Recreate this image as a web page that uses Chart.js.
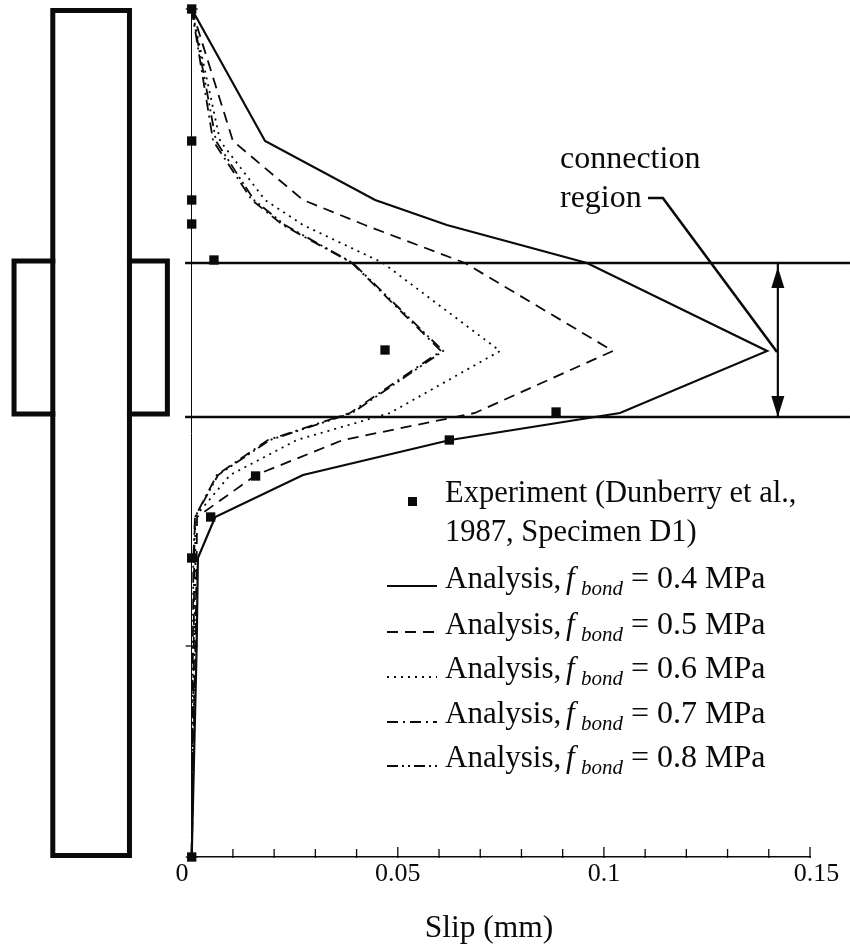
<!DOCTYPE html>
<html><head><meta charset="utf-8">
<style>html,body{margin:0;padding:0;background:#fff}#w{width:850px;height:948px}</style>
<script src="https://cdn.jsdelivr.net/npm/chart.js@4"></script></head>
<body><div id="w"><canvas id="c"></canvas></div>
<script>
// height along the column (axis is unlabelled in the source)
const heights   = [848,716,657,632,594,506,444,417,382,340,299,211,0];
const slip04    = [0,.0178,.0445,.0619,.0959,.1396,.1039,.0627,.0270,.0057,.0015,.0012,0];
const slip05    = [0,.0100,.0270,.0420,.0663,.1022,.0687,.0367,.0156,.0013,.0012,.0009,0];
const slip06    = [0,.0069,.0178,.0270,.0464,.0748,.0481,.0255,.0093,.0008,.0009,.0007,0];
const slip07    = [0,.0052,.0146,.0221,.0389,.0605,.0384,.0185,.0061,.0008,.0006,.0005,0];
const slip08    = [0,.0059,.0151,.0226,.0391,.0610,.0389,.0190,.0064,.0008,.0004,.0003,0];
const expSlip   = [0,0,0,0,.0054,.0469,.0884,.0625,.0155,.0046,0,0];
const expHeight = [848,716,657,633,597,507,445,417,381,340,299,0];
const xLabels   = [0,0.05,0.1,0.15];
const yTicks    = [0,211,848];
const legendLabels = ['0.4','0.5','0.6','0.7','0.8'];
const lineDashes = [[],[11,7],[2,5],[11,5,2,5],[11,4,2,4,2,4]];
const regionBounds = [594,440];
const columnX = [-.0337,-.0151], columnY = [1.5,846.5];
const boxX = [-.0431,-.0059], boxY = [596,443];
const leaderX = [.1107,.1143,.1420], leaderY = [659,659,505];
const arrowX = .1422;

const black = '#0a0a0a';
const serif = '"Liberation Serif","Times New Roman",serif';
const zip = (xs,ys)=>xs.map((x,i)=>({x,y:ys[i]}));
const line = (data,width,dash=[])=>({type:'line',data,showLine:true,borderColor:black,borderWidth:width,borderDash:dash,pointRadius:0,tension:0,fill:false,clip:false,borderJoinStyle:'miter'});
// a very long dash keeps the line solid while letting vertical runs draw in full
const outline = (data,width)=>({...line(data,width,[5000,1]),borderCapStyle:'square'});

const datasets = [
  {type:'scatter',label:'Experiment',data:zip(expSlip,expHeight),pointStyle:'rect',pointRadius:6.6,backgroundColor:black,borderWidth:0,showLine:false,clip:false},
  ...[slip04,slip05,slip06,slip07,slip08].map((s,i)=>({...line(zip(s,heights),i==0?2.2:1.8,lineDashes[i]),label:'Analysis '+legendLabels[i]})),
  line(zip([-.0016,.1597],[regionBounds[0],regionBounds[0]]),2.6),
  line(zip([-.0016,.1597],[regionBounds[1],regionBounds[1]]),2.6),
  outline(zip([columnX[0],columnX[1],columnX[1],columnX[0],columnX[0]],[columnY[0],columnY[0],columnY[1],columnY[1],columnY[0]]),5),
  outline(zip([columnX[0],boxX[0],boxX[0],columnX[0]],[boxY[0],boxY[0],boxY[1],boxY[1]]),5),
  outline(zip([columnX[1],boxX[1],boxX[1],columnX[1]],[boxY[0],boxY[0],boxY[1],boxY[1]]),5),
  line(zip(leaderX,leaderY),2.6),
  outline(zip([arrowX,arrowX],regionBounds),2.2)
];

const overlay = {id:'overlay',afterDatasetsDraw(chart){
  const {ctx,scales:{x,y}} = chart;
  ctx.save();
  ctx.strokeStyle = black; ctx.fillStyle = black; ctx.lineWidth = 1.3;
  x.ticks.forEach(t=>{
    const px = x.getPixelForValue(t.value), major = xLabels.some(v=>Math.abs(v-t.value)<1e-6);
    ctx.beginPath(); ctx.moveTo(px,y.bottom+1); ctx.lineTo(px,y.bottom-(major?10:8)); ctx.stroke();
  });
  y.ticks.forEach(t=>{
    const py = y.getPixelForValue(t.value);
    ctx.beginPath(); ctx.moveTo(x.left-6,py); ctx.lineTo(x.left+6,py); ctx.stroke();
  });
  const ax = x.getPixelForValue(arrowX), up = y.getPixelForValue(regionBounds[0])+4, dn = y.getPixelForValue(regionBounds[1]);
  [[up,1],[dn,-1]].forEach(([p,d])=>{
    ctx.beginPath(); ctx.moveTo(ax,p); ctx.lineTo(ax-6.5,p+d*21); ctx.lineTo(ax+6.5,p+d*21); ctx.closePath(); ctx.fill();
  });
  ctx.textBaseline='alphabetic'; ctx.textAlign='left';
  ctx.font = '32px '+serif;
  ctx.fillText('connection',560,168);
  ctx.fillText('region',560,207);
  ctx.font = '30.5px '+serif;
  ctx.fillText('Experiment (Dunberry et al.,',445,502);
  ctx.fillText('1987, Specimen D1)',445,541);
  ctx.fillRect(408,497,9,9);
  const rows=[588,634,678,723,767], keys=[586,632,677,722,766];
  legendLabels.forEach((v,i)=>{
    ctx.font='31px '+serif; ctx.fillText('Analysis,',445,rows[i]);
    ctx.font='italic 31px '+serif; ctx.fillText('f',566,rows[i]);
    ctx.font='italic 21px '+serif; ctx.fillText('bond',581,rows[i]+7);
    ctx.font='32px '+serif; ctx.fillText('= '+v+' MPa',631,rows[i]);
    ctx.save(); ctx.lineWidth=1.8; ctx.setLineDash(lineDashes[i]);
    ctx.beginPath(); ctx.moveTo(387,keys[i]); ctx.lineTo(437,keys[i]); ctx.stroke(); ctx.restore();
  });
  ctx.restore();
}};

new Chart(document.getElementById('c'),{
  data:{datasets},
  plugins:[overlay],
  options:{
    responsive:true,maintainAspectRatio:false,animation:false,
    layout:{padding:{left:191.7,right:40,top:9,bottom:0}},
    plugins:{legend:{display:false},tooltip:{enabled:false},title:{display:false}},
    scales:{
      x:{type:'linear',position:'bottom',min:0,max:0.15,
        grid:{display:false},
        border:{display:true,color:black,width:1.5},
        afterFit(s){s.height=91;s.paddingLeft=0;s.paddingRight=0;},
        ticks:{stepSize:0.01,autoSkip:false,maxRotation:0,padding:-6,color:black,font:{family:serif,size:26},
          callback(v){
            if(Math.abs(v)<1e-6) return '0   ';
            if(Math.abs(v-0.15)<1e-6) return '  0.15';
            return xLabels.some(l=>Math.abs(l-v)<1e-6)?String(+v.toFixed(2)):'';
          }},
        title:{display:true,text:'Slip (mm)   ',color:black,font:{family:serif,size:31.5},padding:{top:0,bottom:0}}
      },
      y:{type:'linear',position:'left',min:0,max:848,
        grid:{display:false},
        border:{display:true,color:black,width:1},
        afterFit(s){s.width=0;},
        afterBuildTicks(s){s.ticks=yTicks.map(value=>({value}));},
        ticks:{display:false}
      }
    }
  }
});
</script></body></html>
